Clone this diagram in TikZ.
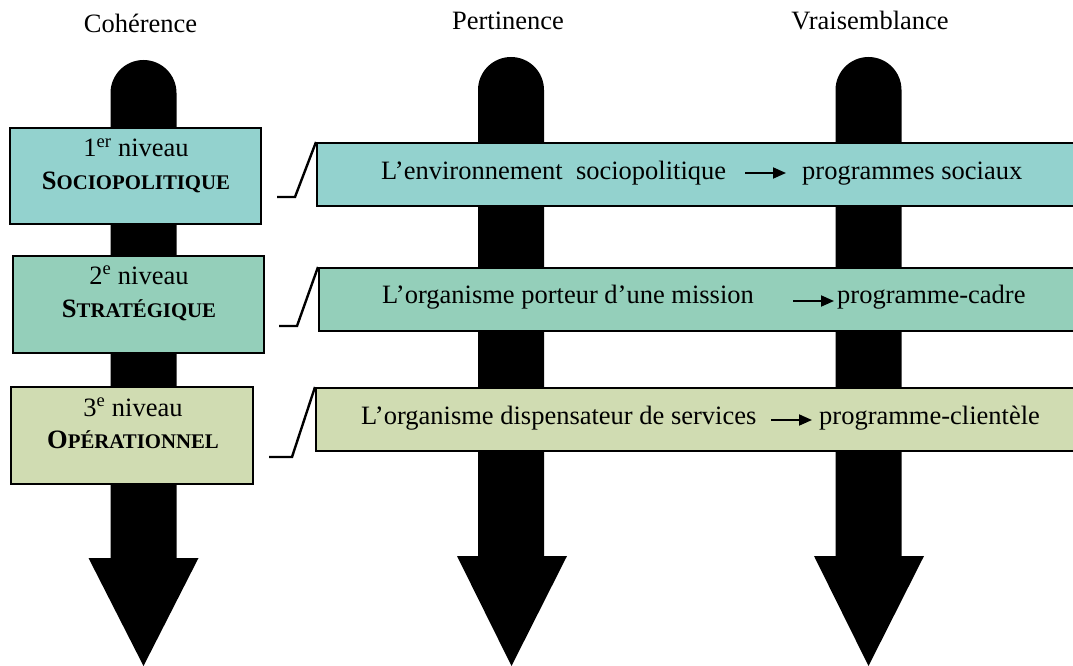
\documentclass[tikz,border=0pt]{standalone}
\usepackage{fontspec}
\setmainfont{Liberation Serif}
\usetikzlibrary{arrows.meta}
\definecolor{cteal}{RGB}{147,210,206}
\definecolor{cmint}{RGB}{148,207,186}
\definecolor{colive}{RGB}{208,220,178}
\newcommand\mysmcaps[2]{\textbf{#1{\fontsize{20.8}{24}\selectfont #2}}}
\begin{document}
\begin{tikzpicture}[x=1pt,y=-1pt,
  every node/.style={inner sep=0pt, font=\fontsize{26.5}{30}\selectfont},
  bigarrow/.style={fill=black},
  levelbox/.style={draw=black, line width=2pt},
  barbox/.style={draw=black, line width=2pt},
  bracket/.style={draw=black, line width=2.4pt},
  txtarrow/.style={line width=1.8pt, -{Triangle[length=13pt,width=11pt]}},
  title/.style={anchor=base}
]
\useasboundingbox (0,0) rectangle (1073,666);
\fill[white] (0,0) rectangle (1073,666);

% titles
\node[title] (t1) at (140.5,33) {Cohérence};
\node[title] (t2) at (508,30) {Pertinence};
\node[title] (t3) at (870,30) {Vraisemblance};

% big arrows
\fill[bigarrow] (110.5,558) -- (110.5,93) arc (180:360:33) -- (176.5,558) -- (198.5,558) -- (143.5,666) -- (88.5,558) -- cycle;
\fill[bigarrow] (478,556) -- (478,90) arc (180:360:33) -- (544,556) -- (567,556) -- (511.5,666) -- (457,556) -- cycle;
\fill[bigarrow] (835.5,556) -- (835.5,90) arc (180:360:33) -- (901.5,556) -- (924,556) -- (868.5,666) -- (814,556) -- cycle;

% left level boxes
\path[levelbox, fill=cteal] (10,128) rectangle (261,224);
\path[levelbox, fill=cmint] (13,256) rectangle (264,353);
\path[levelbox, fill=colive] (11,387) rectangle (253,484);
\node[anchor=base] (l1a) at (136,157) {1\textsuperscript{er} niveau};
\node[anchor=base] (l1b) at (136,189) {\mysmcaps{S}{OCIOPOLITIQUE}};
\node[anchor=base] (l2a) at (139,284) {2\textsuperscript{e} niveau};
\node[anchor=base] (l2b) at (139,317) {\mysmcaps{S}{TRATÉGIQUE}};
\node[anchor=base] (l3a) at (133,416) {3\textsuperscript{e} niveau};
\node[anchor=base] (l3b) at (133,448) {\mysmcaps{O}{PÉRATIONNEL}};

% right bars
\node[barbox, fill=cteal, anchor=north west, minimum width=770pt, minimum height=63pt] (r1) at (316,142) {};
\node[barbox, fill=cmint, anchor=north west, minimum width=770pt, minimum height=63pt] (r2) at (318,267) {};
\node[barbox, fill=colive, anchor=north west, minimum width=770pt, minimum height=63pt] (r3) at (315,387) {};

% brackets
\coordinate (k1) at (277,197);
\coordinate (k2) at (279,326);
\coordinate (k3) at (269,457);
\draw[bracket] (k1) -- ++(18,0) -- (r1.north west);
\draw[bracket] (k2) -- ++(18,0) -- (r2.north west);
\draw[bracket] (k3) -- ++(23,0) -- (r3.north west);

% bar texts
\node[anchor=base west] (p1a) at (381,179) {L’environnement\ \ sociopolitique};
\node[anchor=base west] (p1b) at (802,179) {programmes sociaux};
\coordinate (a1s) at (745,173);
\coordinate (a1e) at (786,173);
\draw[txtarrow] (a1s) -- (a1e);

\node[anchor=base west] (p2a) at (382,303) {L’organisme porteur d’une mission};
\node[anchor=base west] (p2b) at (837,303) {programme-cadre};
\coordinate (a2s) at (793,301);
\coordinate (a2e) at (834,301);
\draw[txtarrow] (a2s) -- (a2e);

\node[anchor=base west] (p3a) at (361,424) {L’organisme dispensateur de services};
\node[anchor=base west] (p3b) at (819,424) {programme-clientèle};
\coordinate (a3s) at (771,420);
\coordinate (a3e) at (812,420);
\draw[txtarrow] (a3s) -- (a3e);
\end{tikzpicture}
\end{document}
